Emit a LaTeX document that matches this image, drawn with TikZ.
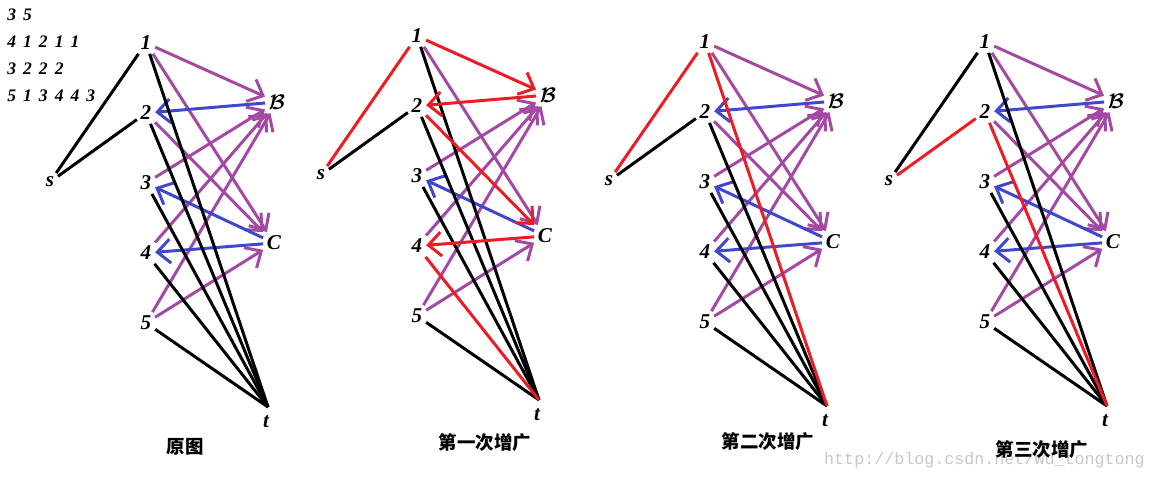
\documentclass[tikz,border=0pt]{standalone}
\usepackage{amsmath}
\usepackage{fontspec}
\setmainfont{Liberation Serif}
\newfontfamily\cjk{Noto Sans CJK SC}
\newfontfamily\wmfont{Liberation Mono}
\newfontfamily\datafont{Liberation Serif}[WordSpace=1.6]
\usetikzlibrary{arrows.meta}
\definecolor{paintpurple}{HTML}{A349A4}
\definecolor{paintblue}{HTML}{3F48CC}
\definecolor{paintred}{HTML}{ED1C24}
\newcommand{\resB}{$\boldsymbol{\mathcal{B}}$}

\begin{document}
\begin{tikzpicture}[x=0.02cm,y=-0.02cm,
    vtx/.style={inner sep=2pt,font=\fontsize{12}{14}\selectfont\bfseries\itshape},
    ln/.style={line width=1.7pt,black},
    aug/.style={line width=1.7pt,paintred},
    fw/.style={line width=1.7pt,paintpurple,-{Straight Barb[length=2.6mm,width=4.8mm]}},
    bk/.style={line width=1.7pt,paintblue,-{Straight Barb[length=2.6mm,width=4.8mm]}},
    augar/.style={line width=1.7pt,paintred,-{Straight Barb[length=2.6mm,width=4.8mm]}},
    ttl/.style={font=\cjk\bfseries\fontsize{10.5}{12}\selectfont}]
  \useasboundingbox (0,0) rectangle (1153,480);

  % input data
  \node[anchor=north west,align=left,inner sep=0pt,
    font=\datafont\fontsize{10}{15.3}\selectfont\bfseries\itshape] (data) at (7,9)
    {3 5\\4 1 2 1 1\\3 2 2 2\\5 1 3 4 4 3};

  % the four networks
  \foreach \g/\dx/\dy in {a/0/0,b/271/-7,c/559/-1,d/839/-1}{
    \begin{scope}[shift={(\dx,\dy)}]
      \node[vtx] (\g s) at (50,182) {s};
      \foreach \i in {1,...,5}
        \node[vtx] (\g\i) at (146,{70*\i-27}) {\i};
      \node[vtx] (\g B) at (277,102) {\resB};
      \node[vtx] (\g C) at (274,243) {C};
      \node[vtx] (\g t) at (266,422) {t};
      \coordinate (\g j) at (268,407);
    \end{scope}
  }

  % original
  \foreach \u/\v/\st in {1/B/fw,1/C/fw,2/C/fw,3/B/fw,4/B/fw,5/B/fw,5/C/fw,
      B/2/bk,C/3/bk,C/4/bk,
      s/1/ln,s/2/ln,1/j/ln,2/j/ln,3/j/ln,4/j/ln,5/j/ln}
    \draw[\st] (a\u) -- (a\v);

  % first augmentation
  \foreach \u/\v/\st in {1/C/fw,3/B/fw,4/B/fw,5/B/fw,5/C/fw,
      C/3/bk,
      s/2/ln,1/j/ln,2/j/ln,3/j/ln,5/j/ln,
      s/1/aug,1/B/augar,B/2/augar,2/C/augar,C/4/augar,4/j/aug}
    \draw[\st] (b\u) -- (b\v);

  % second augmentation
  \foreach \u/\v/\st in {1/B/fw,1/C/fw,2/C/fw,3/B/fw,4/B/fw,5/B/fw,5/C/fw,
      B/2/bk,C/3/bk,C/4/bk,
      s/2/ln,2/j/ln,3/j/ln,4/j/ln,5/j/ln,
      s/1/aug,1/j/aug}
    \draw[\st] (c\u) -- (c\v);

  % third augmentation
  \foreach \u/\v/\st in {1/B/fw,1/C/fw,2/C/fw,3/B/fw,4/B/fw,5/B/fw,5/C/fw,
      B/2/bk,C/3/bk,C/4/bk,
      s/1/ln,1/j/ln,3/j/ln,4/j/ln,5/j/ln,
      s/2/aug,2/j/aug}
    \draw[\st] (d\u) -- (d\v);

  \node[font=\wmfont\fontsize{9.5}{11}\selectfont,text=black!22,anchor=west] (mark) at (818,460)
    {http://blog.csdn.net/wu\_tongtong};

  \node[ttl] (capa) at (185,447) {原图};
  \node[ttl] (capb) at (485,443) {第一次增广};
  \node[ttl] (capc) at (768,442) {第二次增广};
  \node[ttl] (capd) at (1042,450) {第三次增广};
\end{tikzpicture}
\end{document}
